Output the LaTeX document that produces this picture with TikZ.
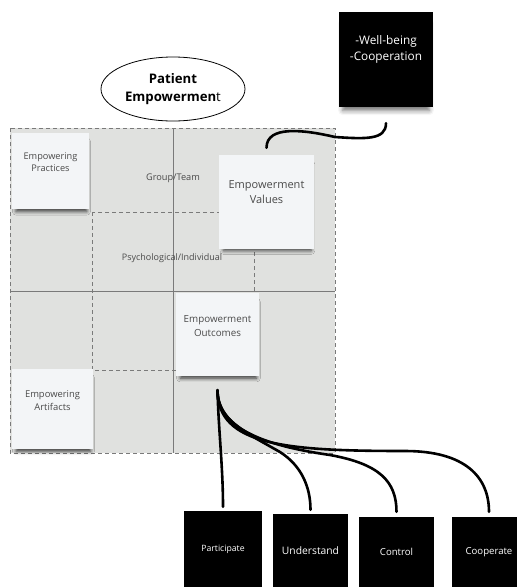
\documentclass[tikz,border=0pt]{standalone}
\usepackage{fontspec}
\setmainfont{Open Sans}
\usetikzlibrary{shapes.geometric,shadows.blur}
\definecolor{areagrey}{HTML}{E0E1DF}
\definecolor{notefill}{HTML}{F3F5F7}
\definecolor{rulegrey}{HTML}{7A7A7A}
\definecolor{notetext}{HTML}{4A4A4A}
\tikzset{
  note/.style={fill=notefill, inner sep=0pt, align=center, text=notetext,
    blur shadow={shadow xshift=1pt, shadow yshift=-6pt, shadow scale=0.92,
      shadow blur radius=4pt, shadow opacity=75}},
  blacknote/.style={fill=black, inner sep=0pt, align=center, text=white},
  arealabel/.style={text=notetext, inner sep=1pt},
  link/.style={line width=2.6pt, line cap=round}
}
\begin{document}
\begin{tikzpicture}[x=1pt, y=-1pt]
\useasboundingbox (0,0) rectangle (517,587);
\clip (0,0) rectangle (517,587);

% quadrant field
\fill[areagrey] (10,128) rectangle (335,453);
\draw[rulegrey, line width=0.9pt, dash pattern=on 4pt off 3pt] (10,128) rectangle (335,453);
\draw[rulegrey, line width=0.9pt, dash pattern=on 4pt off 3pt] (92,212) rectangle (254,370);
\draw[rulegrey, line width=1pt] (173,128) -- (173,453);
\draw[rulegrey, line width=1pt] (10,291) -- (335,291);
\node[arealabel, font=\fontsize{9.2}{10}\selectfont] (grp) at (173,178) {Group/Team};
\node[arealabel, font=\fontsize{9}{10}\selectfont] (psy) at (172,258) {Psychological/Individual};

% title
\node[draw, ellipse, line width=0.8pt, minimum width=144pt, minimum height=64pt, inner sep=0pt,
  align=center, font=\fontsize{13.2}{18}\selectfont] (pe) at (173,89)
  {\textbf{Patient}\\\textbf{Empowermen}t};

% sticky notes
\node[note, minimum width=77pt, minimum height=76pt, font=\fontsize{9.2}{12}\selectfont] (prac) at (50.5,171)
  {Empowering\\Practices\\[6pt]};
\node[note, minimum width=95pt, minimum height=94pt, font=\fontsize{11}{15}\selectfont] (val) at (266.5,202)
  {Empowerment\\Values\\[4pt]};
\node[note, minimum width=83pt, minimum height=83pt, font=\fontsize{9.8}{13.5}\selectfont] (outc) at (217.5,334.5)
  {Empowerment\\Outcomes\\[4pt]};
\node[note, minimum width=81pt, minimum height=80pt, font=\fontsize{9.4}{12.5}\selectfont] (art) at (52.5,409)
  {Empowering\\Artifacts\\[4pt]};

% black notes
\node[blacknote, minimum width=94pt, minimum height=95pt, font=\fontsize{11.8}{16}\selectfont,
  blur shadow={shadow xshift=0pt, shadow yshift=-8pt, shadow scale=0.92, shadow blur radius=5pt, shadow opacity=55}]
  (wb) at (386,59.5) {-Well-being\\-Cooperation\\[7pt]};
\node[blacknote, minimum width=78pt, minimum height=76pt, font=\fontsize{8.7}{10}\selectfont] (part) at (223,549) {Participate};
\node[blacknote, minimum width=75pt, minimum height=73pt, font=\fontsize{10.3}{12}\selectfont] (und) at (310.5,550.5) {Understand};
\node[blacknote, minimum width=75pt, minimum height=70pt, font=\fontsize{9.6}{12}\selectfont] (ctl) at (396.5,552) {Control};
\node[blacknote, minimum width=74pt, minimum height=70pt, font=\fontsize{9.6}{12}\selectfont] (coop) at (489,552) {Cooperate};

% connectors
\draw[link] ([yshift=-16pt]wb.south) .. controls +(0,17) and +(30,2) .. (335,137)
  .. controls +(-30,-7) and +(0,-23) .. ([yshift=7pt]val.north);
\draw[link] ([yshift=-14pt]outc.south) .. controls +(1,40) and +(0,-40) .. ([yshift=4pt]part.north);
\draw[link] ([yshift=-14pt]outc.south) .. controls +(0,30) and +(-35,-20) .. (280,452)
  .. controls +(22,14) and +(0,-22) .. ([yshift=4pt]und.north);
\draw[link] ([yshift=-14pt]outc.south) .. controls +(0,42) and +(-55,-8) .. (330,455)
  .. controls +(50,9) and +(0,-30) .. ([yshift=5pt]ctl.north);
\draw[link] ([yshift=-14pt]outc.south) .. controls +(0,55) and +(-120,0) .. (405,451)
  .. controls +(60,0) and +(0,-35) .. ([yshift=5pt]coop.north);
\end{tikzpicture}
\end{document}
